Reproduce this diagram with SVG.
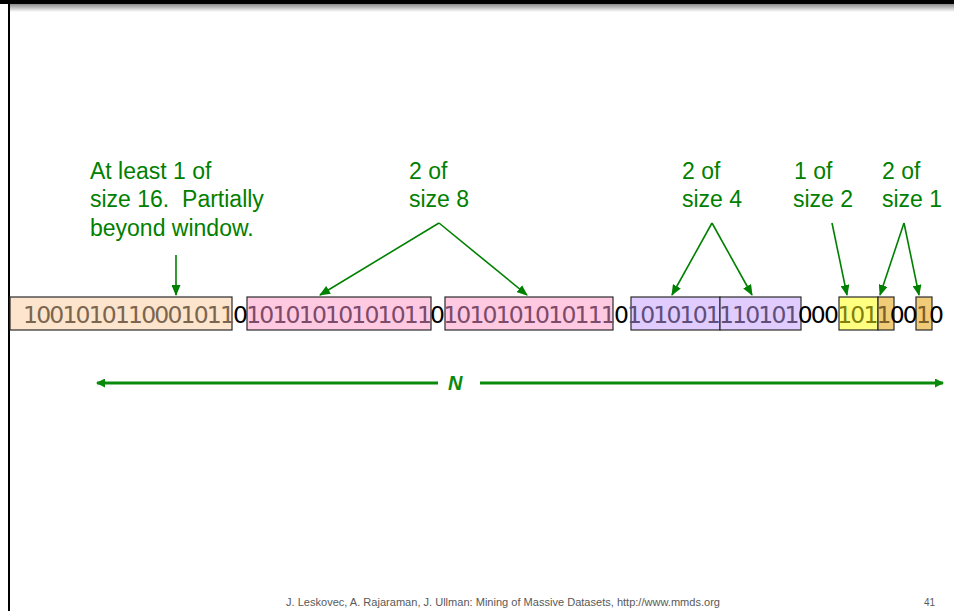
<svg xmlns="http://www.w3.org/2000/svg" width="954" height="611" viewBox="0 0 954 611">
  <defs>
    <linearGradient id="topShade" x1="0" y1="0" x2="0" y2="1">
      <stop offset="0" stop-color="#8a8a8a"/>
      <stop offset="1" stop-color="#ffffff"/>
    </linearGradient>
    <marker id="ah" markerUnits="userSpaceOnUse" markerWidth="11" markerHeight="9" refX="10" refY="4.5" orient="auto">
      <path d="M0,0 L11,4.5 L0,9 z" fill="#008000"/>
    </marker>
    <marker id="ahN" markerUnits="userSpaceOnUse" markerWidth="9" markerHeight="9" refX="8" refY="4.5" orient="auto">
      <path d="M0,0 L9,4.5 L0,9 z" fill="#0a8a0a"/>
    </marker>
  </defs>
  <style>
    .lbl { font-family: "Liberation Sans", Arial, sans-serif; font-size: 23px; fill: #008000; }
    .bits { font-family: "DejaVu Sans", Verdana, sans-serif; font-size: 23.5px; }
    .box { stroke: #2a2a2a; stroke-width: 1.2; }
    .conn { stroke: #008000; stroke-width: 1.6; fill: none; marker-end: url(#ah); }
    .nline { stroke: #0a8a0a; stroke-width: 3; fill: none; marker-end: url(#ahN); }
    .foot { font-family: "Liberation Sans", Arial, sans-serif; font-size: 10px; fill: #595959; }
  </style>

  <rect x="0" y="0" width="954" height="611" fill="#ffffff"/>
  <!-- slide frame -->
  <rect x="0" y="0" width="954" height="4" fill="#000000"/>
  <rect x="10" y="4" width="944" height="8" fill="url(#topShade)"/>
  <rect x="8" y="0" width="2" height="611" fill="#000000"/>

  <!-- bucket boxes -->
  <g id="bucket16">
    <rect class="box" x="10" y="297" width="222" height="33" fill="#fde4cc"/>
  </g>
  <g id="bucket8a">
    <rect class="box" x="247" y="297" width="184" height="33" fill="#ffc9e1"/>
  </g>
  <g id="bucket8b">
    <rect class="box" x="445" y="297" width="168" height="33" fill="#ffc9e1"/>
  </g>
  <g id="bucket4a">
    <rect class="box" x="631" y="297" width="89" height="33" fill="#e0ccff"/>
  </g>
  <g id="bucket4b">
    <rect class="box" x="720" y="297" width="81" height="33" fill="#e0ccff"/>
  </g>
  <g id="bucket2">
    <rect class="box" x="839" y="297" width="39" height="33" fill="#ffff80"/>
  </g>
  <g id="bucket1a">
    <rect class="box" x="878" y="297" width="16" height="33" fill="#f0cc78"/>
  </g>
  <g id="bucket1b">
    <rect class="box" x="916" y="297" width="16" height="33" fill="#f0cc78"/>
  </g>

  <!-- bit stream -->
  <g id="stream">
    <text class="bits" x="23" y="323" textLength="921" lengthAdjust="spacing"><tspan fill="#7a6650">1001010110001011</tspan><tspan fill="#000000">0</tspan><tspan fill="#7b4b69">10101010101011</tspan><tspan fill="#000000">0</tspan><tspan fill="#7b4b69">1010101010111</tspan><tspan fill="#000000">0</tspan><tspan fill="#5f4f78">1010101110101</tspan><tspan fill="#000000">000</tspan><tspan fill="#7f7f10">101</tspan><tspan fill="#7a6028">1</tspan><tspan fill="#000000">00</tspan><tspan fill="#7a6028">1</tspan><tspan fill="#000000">0</tspan></text>
  </g>

  <!-- labels -->
  <g id="label16">
    <text class="lbl" x="90" y="179">At least 1 of</text>
    <text class="lbl" x="90" y="207" xml:space="preserve">size 16.  Partially</text>
    <text class="lbl" x="90" y="236">beyond window.</text>
  </g>
  <g id="label8">
    <text class="lbl" x="409" y="179">2 of</text>
    <text class="lbl" x="409" y="207">size 8</text>
  </g>
  <g id="label4">
    <text class="lbl" x="682" y="179">2 of</text>
    <text class="lbl" x="682" y="207">size 4</text>
  </g>
  <g id="label2">
    <text class="lbl" x="794" y="179">1 of</text>
    <text class="lbl" x="793" y="207">size 2</text>
  </g>
  <g id="label1">
    <text class="lbl" x="882" y="179">2 of</text>
    <text class="lbl" x="882" y="207">size 1</text>
  </g>

  <!-- connectors -->
  <g id="connectors">
    <line class="conn" x1="176" y1="255" x2="176" y2="295"/>
    <line class="conn" x1="439" y1="223" x2="320" y2="295"/>
    <line class="conn" x1="439" y1="223" x2="527" y2="295"/>
    <line class="conn" x1="712" y1="223" x2="672" y2="295"/>
    <line class="conn" x1="712" y1="223" x2="752" y2="295"/>
    <line class="conn" x1="832" y1="223" x2="847" y2="295"/>
    <line class="conn" x1="904" y1="223" x2="880" y2="295"/>
    <line class="conn" x1="904" y1="223" x2="919" y2="295"/>
    <line class="nline" x1="438" y1="383" x2="97" y2="383"/>
    <line class="nline" x1="480" y1="383" x2="943" y2="383"/>
  </g>
  <g id="labelN">
    <text x="448" y="390" font-family="Liberation Sans, Arial, sans-serif" font-size="20" font-style="italic" font-weight="bold" fill="#0a8a0a">N</text>
  </g>

  <!-- footer -->
  <text class="foot" x="503" y="606" text-anchor="middle" textLength="434" lengthAdjust="spacingAndGlyphs">J. Leskovec, A. Rajaraman, J. Ullman: Mining of Massive Datasets, http://www.mmds.org</text>
  <text class="foot" x="924" y="606">41</text>
</svg>
